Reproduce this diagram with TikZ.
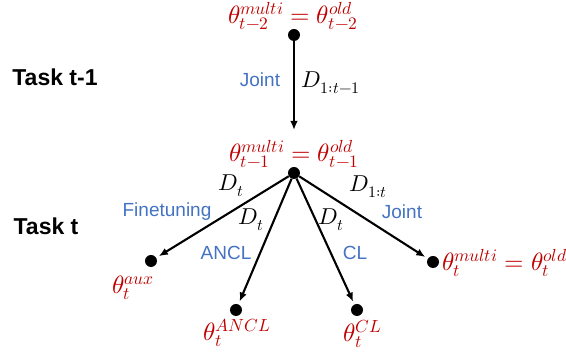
\documentclass[tikz,border=0pt]{standalone}
\usepackage{fontspec}
\usepackage{unicode-math}
\setmathfont{Latin Modern Math}
\setsansfont{Liberation Sans}
\usetikzlibrary{arrows.meta}
\definecolor{myred}{RGB}{192,0,0}
\definecolor{myblue}{RGB}{68,114,196}
\tikzset{
  dot/.style={circle,fill=black,inner sep=0pt,minimum size=12pt},
  arr/.style={line width=2.1pt,-{Latex[length=9pt,width=7.5pt]},shorten >=3pt},
  par/.style={text=myred,font=\fontsize{25}{29}\selectfont,inner sep=0pt},
  meth/.style={text=myblue,font=\sffamily\fontsize{19}{22}\selectfont,inner sep=0pt},
  dlab/.style={font=\fontsize{23}{27}\selectfont,inner sep=0pt},
  task/.style={font=\sffamily\bfseries\fontsize{23}{26}\selectfont,inner sep=0pt}
}
\begin{document}
\begin{tikzpicture}[x=1pt,y=-1pt]
\useasboundingbox (0,0) rectangle (566,352);
\node[task] (t1) at (55,77) {Task t-1};
\node[task] (t2) at (46,226) {Task t};

\node[dot] (a) at (294,35) {};
\node[dot] (m) at (294,173) {};
\node[dot] (aux) at (151,261) {};
\node[dot] (ancl) at (236,310) {};
\node[dot] (cl) at (357,310) {};
\node[dot] (jt) at (433,262) {};

\node[par] (pa) at (293,16) {$\theta^{multi}_{t-2}=\theta^{old}_{t-2}$};
\node[par] (pm) at (294,154) {$\theta^{multi}_{t-1}=\theta^{old}_{t-1}$};
\node[par] (paux) at (133,288) {$\theta^{aux}_{t}$};
\node[par] (pancl) at (237,333) {$\theta^{ANCL}_{t}$};
\node[par] (pcl) at (363,334) {$\theta^{CL}_{t}$};
\node[par,anchor=west] (pjt) at (442,263) {$\theta^{multi}_{t}=\theta^{old}_{t}$};

\coordinate (aend) at (294,130);
\draw[arr,shorten >=0pt] (a) -- (aend);
\draw[arr] (m) -- (aux);
\draw[arr] (m) -- (ancl);
\draw[arr] (m) -- (cl);
\draw[arr] (m) -- (jt);

\node[meth] (l1) at (260,80) {Joint};
\node[dlab] (d1) at (331,83) {$D_{1:t-1}$};
\node[dlab] (d2) at (231,186) {$D_t$};
\node[meth] (l2) at (167,212) {Finetuning};
\node[dlab] (d3) at (251,220) {$D_t$};
\node[meth] (l3) at (226,253) {ANCL};
\node[dlab] (d4) at (331,220) {$D_t$};
\node[meth] (l4) at (355,253) {CL};
\node[dlab] (d5) at (368,187) {$D_{1:t}$};
\node[meth] (l5) at (402,212) {Joint};
\end{tikzpicture}
\end{document}
